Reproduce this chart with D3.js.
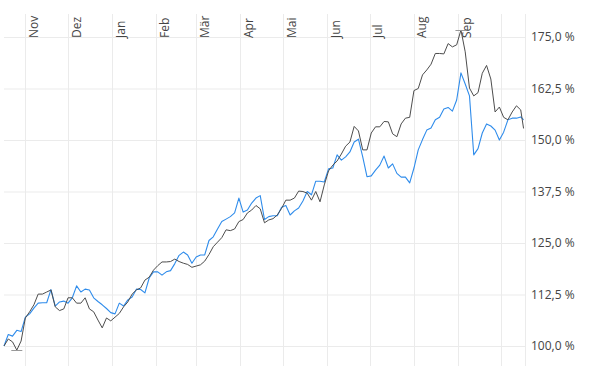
<!DOCTYPE html>
<html>
<head>
<meta charset="utf-8">
<script src="https://cdn.jsdelivr.net/npm/d3@7"></script>
<style>
  html, body { margin: 0; padding: 0; background: #fff; }
  #chart { width: 597px; height: 371px; }
  text { font-family: "Open Sans", "Noto Sans", sans-serif; }
</style>
</head>
<body>
<div id="chart"></div>
<script>
// Daten (Wertentwicklung in %)
const dates = [
  "2020-10-17","2020-10-20","2020-10-23","2020-10-26","2020-10-29",
  "2020-11-01","2020-11-04","2020-11-07","2020-11-10","2020-11-13","2020-11-16","2020-11-19","2020-11-22","2020-11-25","2020-11-28",
  "2020-12-01","2020-12-04","2020-12-07","2020-12-10","2020-12-13","2020-12-16","2020-12-19","2020-12-22","2020-12-25","2020-12-28","2020-12-31",
  "2021-01-03","2021-01-06","2021-01-09","2021-01-12","2021-01-15","2021-01-18","2021-01-21","2021-01-24","2021-01-27","2021-01-30",
  "2021-02-02","2021-02-05","2021-02-08","2021-02-11","2021-02-14","2021-02-17","2021-02-20","2021-02-23","2021-02-26",
  "2021-03-01","2021-03-04","2021-03-07","2021-03-10","2021-03-13","2021-03-16","2021-03-19","2021-03-22","2021-03-25","2021-03-28","2021-03-31",
  "2021-04-03","2021-04-06","2021-04-09","2021-04-12","2021-04-15","2021-04-18","2021-04-21","2021-04-24","2021-04-27","2021-04-30",
  "2021-05-03","2021-05-06","2021-05-09","2021-05-12","2021-05-15","2021-05-18","2021-05-21","2021-05-24","2021-05-27","2021-05-30",
  "2021-06-02","2021-06-05","2021-06-08","2021-06-11","2021-06-14","2021-06-17","2021-06-20","2021-06-23","2021-06-26","2021-06-29",
  "2021-07-02","2021-07-05","2021-07-08","2021-07-11","2021-07-14","2021-07-17","2021-07-20","2021-07-23","2021-07-26","2021-07-29",
  "2021-08-01","2021-08-04","2021-08-07","2021-08-10","2021-08-13","2021-08-16","2021-08-19","2021-08-22","2021-08-25","2021-08-28","2021-08-31",
  "2021-09-03","2021-09-06","2021-09-09","2021-09-12","2021-09-15","2021-09-18","2021-09-21","2021-09-24","2021-09-27","2021-09-30",
  "2021-10-03","2021-10-06","2021-10-09","2021-10-12","2021-10-15","2021-10-17"
];

const serieSchwarz = [
  100.0,101.7,101.0,99.0,101.2,
  106.8,108.3,110.0,112.6,112.6,113.1,113.6,109.5,108.6,109.0,
  111.7,111.7,110.4,110.4,111.7,109.0,108.3,106.3,104.4,106.8,106.1,
  107.0,107.9,109.5,110.7,112.6,113.6,114.1,116.0,116.7,118.4,
  119.5,120.4,120.4,120.5,121.1,120.5,120.1,119.8,119.1,
  119.4,119.7,120.6,122.2,124.1,125.2,126.3,128.2,128.0,128.4,130.2,
  130.7,132.3,133.0,134.1,133.3,129.9,130.6,130.9,131.8,133.4,
  135.4,135.4,135.9,137.6,137.5,137.1,135.4,137.5,135.0,139.1,
  142.5,143.9,144.9,146.6,148.5,149.5,153.3,152.2,147.6,147.6,
  151.7,153.2,153.2,154.5,154.4,151.5,150.8,153.9,155.3,155.5,
  162.0,162.5,165.8,167.0,168.4,171.0,171.0,170.9,173.4,172.6,173.1,
  176.7,171.4,162.6,160.7,161.5,166.2,168.1,164.8,156.8,158.0,
  155.5,154.9,156.8,158.3,157.3,152.8
];

const serieBlau = [
  100.0,102.8,102.4,103.8,103.5,
  107.0,107.8,109.2,110.4,110.5,110.5,113.7,109.7,110.7,110.9,
  110.4,111.7,114.6,113.1,113.8,113.6,111.7,110.8,110.0,109.1,108.1,
  107.8,110.4,109.7,111.2,111.9,113.8,113.7,112.9,116.5,118.0,
  118.0,117.2,118.0,118.3,120.0,122.0,122.8,122.1,120.1,
  121.6,122.1,122.1,125.6,126.5,128.4,130.2,130.8,131.4,132.3,135.9,
  132.5,133.0,134.7,135.9,136.5,130.7,131.4,131.6,131.6,133.7,
  134.1,131.8,132.8,133.5,135.2,137.5,136.7,140.0,140.0,139.8,
  143.0,143.2,146.4,145.1,145.9,147.1,149.5,150.2,145.9,141.1,
  141.3,142.7,143.9,146.1,143.2,144.2,141.9,141.0,141.0,139.6,
  143.2,147.6,150.1,152.4,152.9,154.9,155.5,157.5,157.9,157.0,159.7,
  166.3,163.6,160.7,146.4,147.9,151.7,153.9,153.4,152.4,150.0,
  151.9,154.9,155.3,155.3,155.6,154.9
];

const monatsLabels = ["Nov", "Dez", "Jan", "Feb", "Mär", "Apr", "Mai", "Jun", "Jul", "Aug", "Sep"];
const yTicks = [100, 112.5, 125, 137.5, 150, 162.5, 175];

const breite = 597;
const hoehe = 371;
const plot = { left: 4, right: 525, top: 14, bottom: 366 };

const parse = d3.timeParse("%Y-%m-%d");
const tage = dates.map(parse);

const svg = d3.select("#chart")
  .append("svg")
  .attr("width", breite)
  .attr("height", hoehe);

// Skalen
const x = d3.scaleTime()
  .domain([parse("2020-10-17"), parse("2021-10-18")])
  .range([plot.left, plot.right]);

const y = d3.scaleLinear()
  .domain([100, 175])
  .range([346, 37]);

const deutsch = d3.formatLocale({ decimal: ",", thousands: ".", grouping: [3], currency: ["", " €"] });
const fmt = v => deutsch.format(".1f")(v) + " %";

// Horizontale Gitterlinien + Beschriftung rechts
svg.append("g")
  .attr("transform", `translate(${plot.right},0)`)
  .call(d3.axisRight(y).tickValues(yTicks).tickSize(-(plot.right - plot.left)).tickPadding(6).tickFormat(fmt))
  .call(g => g.select(".domain").remove())
  .call(g => g.selectAll(".tick line").attr("stroke", "#ebebeb"))
  .call(g => g.selectAll(".tick text")
    .attr("fill", "#444")
    .style("font-size", "12px")
    .attr("x", 6));

// Vertikale Gitterlinien (Monatsanfänge)
const monate = d3.timeMonth.range(parse("2020-11-01"), parse("2021-10-02"));
svg.append("g")
  .selectAll("line")
  .data(monate)
  .enter()
  .append("line")
  .attr("x1", d => Math.round(x(d)) + 0.5)
  .attr("x2", d => Math.round(x(d)) + 0.5)
  .attr("y1", plot.top)
  .attr("y2", plot.bottom)
  .attr("stroke", "#ebebeb");

// rechter Rand
svg.append("line")
  .attr("x1", plot.right + 0.5).attr("x2", plot.right + 0.5)
  .attr("y1", plot.top).attr("y2", plot.bottom)
  .attr("stroke", "#ebebeb");

// Monatsnamen, gedreht
svg.append("g")
  .selectAll("text")
  .data(monate.slice(0, monatsLabels.length))
  .enter()
  .append("text")
  .attr("transform", d => `translate(${x(d) + 12.5},38) rotate(-90)`)
  .attr("text-anchor", "start")
  .attr("fill", "#444")
  .style("font-size", "12px")
  .text((d, i) => monatsLabels[i]);

// Linien
const linie = werte => d3.line()
  .x((d, i) => x(tage[i]))
  .y(d => y(d))(werte);

svg.append("path")
  .attr("d", linie(serieBlau))
  .attr("fill", "none")
  .attr("stroke", "#2f8ceb")
  .attr("stroke-width", 1.1)
  .attr("stroke-linejoin", "round");

svg.append("path")
  .attr("d", linie(serieSchwarz))
  .attr("fill", "none")
  .attr("stroke", "#4d4d4d")
  .attr("stroke-width", 1)
  .attr("stroke-linejoin", "round");

// Hoch-/Tief-Markierung der schwarzen Serie
const iMax = d3.maxIndex(serieSchwarz);
const iMin = d3.minIndex(serieSchwarz);
[iMax, iMin].forEach(i => {
  svg.append("line")
    .attr("x1", x(tage[i]) - 5.5)
    .attr("x2", x(tage[i]) + 5.5)
    .attr("y1", Math.round(y(serieSchwarz[i])) + 0.5)
    .attr("y2", Math.round(y(serieSchwarz[i])) + 0.5)
    .attr("stroke", "#999")
    .attr("stroke-width", 1);
});
</script>
</body>
</html>
